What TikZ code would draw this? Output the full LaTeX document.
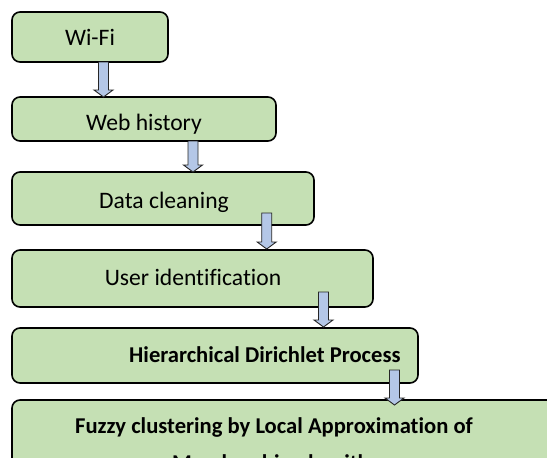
\documentclass[tikz,border=0pt]{standalone}
\usepackage{fontspec}
\setmainfont[Ligatures=NoCommon]{Carlito}
\usetikzlibrary{calc}
\definecolor{boxgreen}{HTML}{C5E0B4}
\definecolor{arrowblue}{HTML}{B4C7E7}
\newcommand{\blockarrow}[3]{%
  \path (#1,0 |- #2) coordinate (bs) (#1,0 |- #3) coordinate (bt);
  \draw[bar] ($(bs)+(-5,0)$) -- ($(bt)+(-5,-7)$) -- ($(bt)+(-9.5,-7)$) -- (bt)
    -- ($(bt)+(9.5,-7)$) -- ($(bt)+(5,-7)$) -- ($(bs)+(5,0)$) -- cycle;}
\begin{document}
\begin{tikzpicture}[x=1pt,y=-1pt,
  box/.style={draw=black, line width=1.6pt, fill=boxgreen, rounded corners=8pt, outer sep=0pt, inner sep=0pt},
  lbl/.style={anchor=base, inner sep=0pt, font=\fontsize{23.6}{28}\selectfont},
  lblb/.style={anchor=base west, inner sep=0pt, font=\fontsize{22.6}{27}\selectfont\bfseries},
  bar/.style={fill=arrowblue, draw=black!85, line width=0.9pt, line join=miter}]
\useasboundingbox (0,0) rectangle (547,458);
\clip (0,0) rectangle (547,458);
% boxes
\node[box, minimum width=156pt, minimum height=50pt] (wifi) at (90,37) {};
\node[box, minimum width=264pt, minimum height=44pt] (web) at (144,119) {};
\node[box, minimum width=302pt, minimum height=53pt] (data) at (163,198.5) {};
\node[box, minimum width=361pt, minimum height=57pt] (user) at (192.5,278.5) {};
\node[box, minimum width=406pt, minimum height=55pt] (hdp) at (215,355.5) {};
\node[box, minimum width=560pt, minimum height=100pt] (fuzzy) at (292,450) {};
% texts
\node[lbl] (twifi) at (90,45) {Wi-Fi};
\node[lbl] (tweb) at (144,130) {Web history};
\node[lbl] (tdata) at (164,208) {Data cleaning};
\node[lbl] (tuser) at (193,285) {User identification};
\node[lblb] (thdp) at (129,362) {Hierarchical Dirichlet Process};
\node[lblb] (tfz1) at (75,433) {Fuzzy clustering by Local Approximation of};
\node[lblb] (tfz2) at (172,470) {Membership algorithm};
% arrow end points
\path ($(data.south)+(0,-12)$) coordinate (a3s)
      ($(user.north)+(0,-1)$) coordinate (a3t)
      ($(user.south)+(0,-15)$) coordinate (a4s)
      ($(hdp.north)+(0,-1)$) coordinate (a4t)
      ($(hdp.south)+(0,-13)$) coordinate (a5s)
      ($(fuzzy.north)+(0,5)$) coordinate (a5t);
% arrows
\blockarrow{103.5}{wifi.south}{web.north}
\blockarrow{193}{web.south}{data.north}
\blockarrow{266.7}{a3s}{a3t}
\blockarrow{323.5}{a4s}{a4t}
\blockarrow{394.5}{a5s}{a5t}
\end{tikzpicture}
\end{document}
